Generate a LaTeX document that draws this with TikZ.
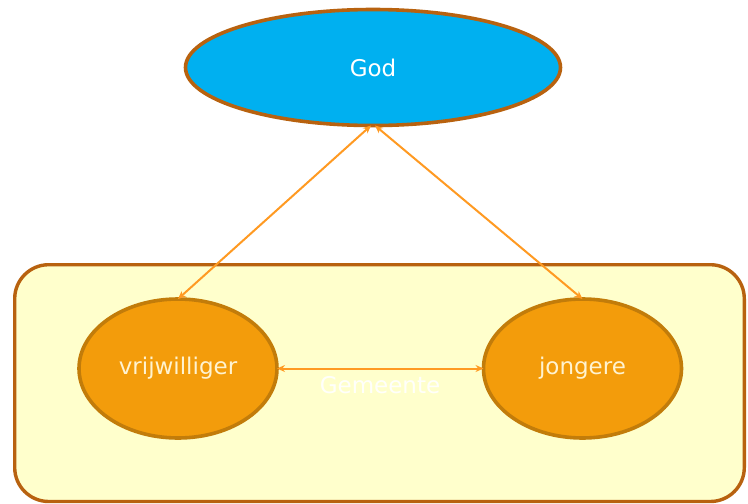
\documentclass[tikz,border=0pt]{standalone}
\usepackage{fontspec}
\setmainfont{DejaVu Sans}
\usetikzlibrary{shapes.geometric,arrows.meta}
\definecolor{godblue}{HTML}{00B0F0}
\definecolor{brownline}{HTML}{B8620F}
\definecolor{orangefill}{HTML}{F39C0B}
\definecolor{orangeline}{HTML}{C27C0A}
\definecolor{boxfill}{HTML}{FFFFCC}
\definecolor{arrowcol}{HTML}{FF9A22}
\definecolor{creamtext}{HTML}{FFF3D0}
\tikzset{
  godnode/.style={ellipse, draw=brownline, line width=3.6pt, fill=godblue, inner sep=0pt, outer sep=0pt,
    minimum width=375pt, minimum height=116pt, text=white, font=\fontsize{23}{27}\selectfont},
  person/.style={ellipse, draw=orangeline, line width=3.6pt, fill=orangefill, inner sep=0pt, outer sep=0pt,
    minimum width=198pt, minimum height=139pt, text=creamtext, font=\fontsize{23}{27}\selectfont},
  groupbox/.style={draw=brownline, line width=3.4pt, fill=boxfill, rounded corners=34pt},
  conn/.style={draw=arrowcol, line width=2pt, {Stealth[length=8pt,width=7pt]}-{Stealth[length=8pt,width=7pt]}},
}
\begin{document}
\begin{tikzpicture}[x=1pt,y=-1pt]
\useasboundingbox (0,0) rectangle (748,504);
\fill[white] (0,0) rectangle (748,504);
\draw[groupbox] (14.7,264.7) rectangle (744.3,501.5);
\node[text=white!92!boxfill, font=\fontsize{23}{27}\selectfont] (gem) at (380,385) {Gemeente};
\node[godnode] (god) at (373,67.5) {God};
\node[person] (vr) at (178,368.5) {vrijwilliger};
\node[person] (jo) at (582.5,368.5) {jongere};
\draw[conn] ([xshift=-2pt]god.south) -- (vr.north);
\draw[conn] ([xshift=2pt]god.south) -- (jo.north);
\draw[conn] (vr.east) -- (jo.west);
\end{tikzpicture}
\end{document}
